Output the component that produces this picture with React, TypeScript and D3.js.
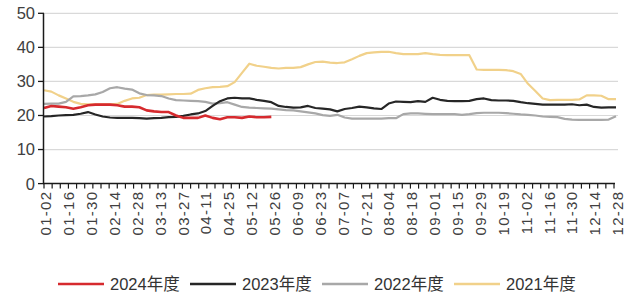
import React from "react";
import * as d3 from "d3";

const dateLabels = ["01-02","01-16","01-30","02-14","02-28","03-13","03-27","04-11","04-25","05-12","05-26","06-09","06-23","07-07","07-21","08-04","08-18","09-01","09-15","09-29","10-19","11-02","11-16","11-30","12-14","12-28"];
const yTicks = [0, 10, 20, 30, 40, 50];

const s2024 = [22.2,22.8,22.6,22.4,22.0,22.4,23.0,23.2,23.2,23.2,23.0,22.6,22.6,22.4,21.5,21.2,21.0,21.0,20.0,19.3,19.3,19.3,20.0,19.3,18.9,19.5,19.5,19.3,19.7,19.5,19.5,19.6];
const s2023 = [19.7,19.8,20.0,20.1,20.2,20.5,21.0,20.3,19.7,19.4,19.3,19.3,19.3,19.2,19.1,19.2,19.3,19.5,19.6,19.9,20.3,20.6,21.3,22.8,24.2,25.0,25.2,25.0,25.0,24.6,24.3,23.9,22.8,22.5,22.3,22.4,22.8,22.2,22.0,21.8,21.2,21.9,22.2,22.6,22.4,22.1,21.9,23.5,24.1,24.0,23.9,24.2,24.0,25.2,24.6,24.3,24.2,24.2,24.3,24.8,25.0,24.5,24.4,24.4,24.3,23.9,23.6,23.4,23.2,23.2,23.2,23.2,23.3,23.0,23.2,22.5,22.3,22.4,22.4];
const s2022 = [23.4,23.5,23.5,24.0,25.6,25.7,25.9,26.2,26.9,28.0,28.3,27.9,27.6,26.5,26.0,25.9,25.7,25.0,24.5,24.4,24.3,24.2,24.0,23.5,23.6,23.9,23.2,22.5,22.3,22.2,22.1,22.0,21.8,21.6,21.5,21.2,20.9,20.6,20.1,19.9,20.2,19.4,19.1,19.1,19.1,19.1,19.1,19.2,19.2,20.4,20.6,20.6,20.5,20.4,20.4,20.4,20.4,20.2,20.4,20.7,20.8,20.8,20.8,20.7,20.5,20.3,20.2,20.0,19.7,19.6,19.5,19.0,18.8,18.7,18.7,18.7,18.7,18.8,19.8];
const s2021 = [27.4,27.0,25.9,25.0,24.0,23.4,23.3,23.3,23.3,23.3,23.4,24.3,25.0,25.2,26.0,26.1,26.1,26.2,26.3,26.3,26.4,27.5,28.0,28.3,28.4,28.6,29.8,32.5,35.2,34.6,34.3,34.0,33.8,34.0,34.0,34.2,35.0,35.7,35.8,35.5,35.4,35.6,36.5,37.5,38.3,38.5,38.7,38.7,38.3,38.0,38.0,38.0,38.3,38.0,37.8,37.7,37.7,37.7,37.7,33.5,33.4,33.4,33.4,33.3,33.0,32.2,29.3,27.2,25.0,24.5,24.6,24.6,24.6,24.7,25.9,25.9,25.8,24.8,24.8];

const seriesNames = ["2024年度", "2023年度", "2022年度", "2021年度"];
const seriesData = [s2024, s2023, s2022, s2021];
const seriesColors = ["#d62a2e", "#262626", "#a8a8a8", "#f1d18a"];
const seriesWidths = [2.6, 2.2, 2.2, 2.2];

const W = 635, H = 300;
const left = 44, right = 616, top = 13.3, bottom = 183.6;
const FONT = "'Liberation Sans', Arial, 'Noto Sans CJK SC', sans-serif";

export default function App() {
  const y = d3.scaleLinear().domain([0, 50]).range([bottom, top]);
  const xIdx = d3.scaleLinear().domain([0, 78]).range([left, right]);
  const xLab = d3.scalePoint<string>().domain(dateLabels).range([left, right]);
  const minorTicks = d3.range(0, 71).map((j) => left + j * ((right - 2 - left) / 70));

  const line = (arr: number[]) =>
    d3.line<number>().x((_, i) => xIdx(i)).y((d) => y(d))(arr) || "";

  const drawOrder = [3, 2, 1, 0];
  const legendX = [58, 190, 322, 454];

  return (
    <svg width={W} height={H} style={{ position: "absolute", left: 0, top: 0, background: "#fff" }} fontFamily={FONT}>
      {yTicks.filter((t) => t > 0).map((t) => (
        <line key={"g" + t} x1={left} x2={618} y1={y(t)} y2={y(t)} stroke="#d9d9d9" strokeWidth={1.2} />
      ))}
      {drawOrder.map((k) => (
        <path key={"s" + k} d={line(seriesData[k])} fill="none" stroke={seriesColors[k]} strokeWidth={seriesWidths[k]} strokeLinejoin="round" />
      ))}
      {/* y axis */}
      <line x1={left - 0.5} x2={left - 0.5} y1={top} y2={bottom} stroke="#1a1a1a" strokeWidth={1.5} />
      {yTicks.map((t) => (
        <g key={"y" + t}>
          <line x1={left - 6} x2={left} y1={y(t)} y2={y(t)} stroke="#1a1a1a" strokeWidth={1.3} />
          <text x={35} y={y(t)} dy="0.36em" textAnchor="end" fontSize={16.5} fill="#404040">{t}</text>
        </g>
      ))}
      {/* x axis */}
      <line x1={left - 1} x2={right - 1} y1={bottom} y2={bottom} stroke="#1a1a1a" strokeWidth={1.5} />
      {minorTicks.map((tx, j) => (
        <line key={"t" + j} x1={tx} x2={tx} y1={bottom} y2={bottom + 5} stroke="#1a1a1a" strokeWidth={1.2} />
      ))}
      {dateLabels.map((l) => (
        <text key={l} transform={`translate(${(xLab(l) as number) + 2},${bottom + 7}) rotate(-90)`} textAnchor="end" dy="0.35em" fontSize={15} letterSpacing={1.3} fill="#404040">{l}</text>
      ))}
      {/* legend */}
      {seriesNames.map((n, k) => (
        <g key={n} transform={`translate(${legendX[k]},284)`}>
          <line x1={0} x2={46} y1={0} y2={0} stroke={seriesColors[k]} strokeWidth={2.6} />
          <text x={52} y={0} dy="0.36em" fontSize={16.5} fill="#333">{n}</text>
        </g>
      ))}
    </svg>
  );
}
